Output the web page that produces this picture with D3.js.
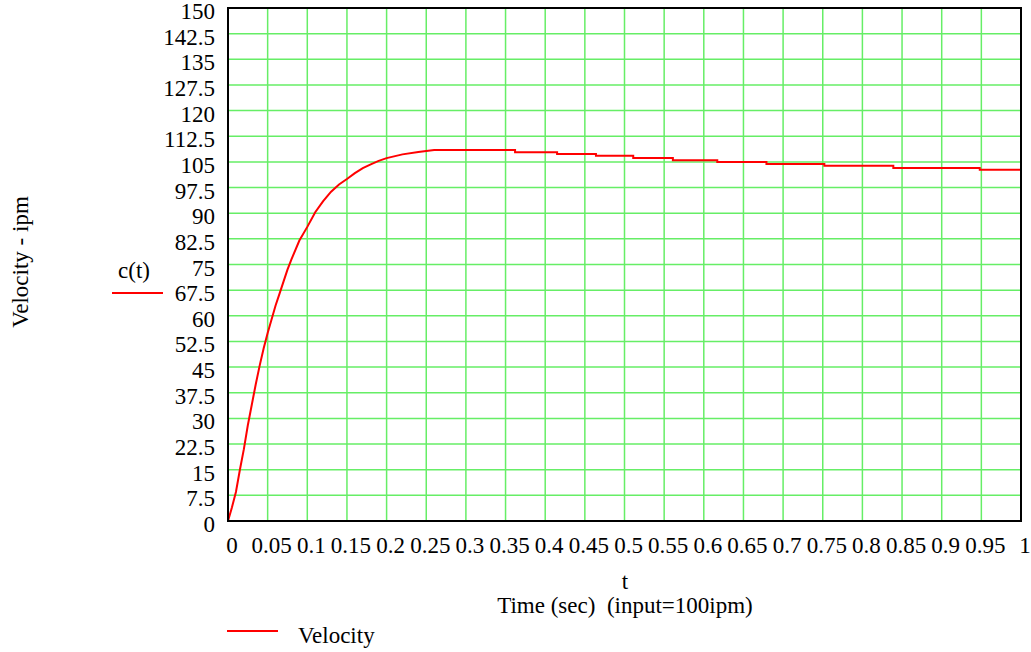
<!DOCTYPE html>
<html>
<head>
<meta charset="utf-8">
<script src="https://cdn.jsdelivr.net/npm/d3@7"></script>
</head>
<body style="margin:0">
<div id="chart"></div>
<script>
// tick labels shown on the axes
const xTicks = [0, 0.05, 0.1, 0.15, 0.2, 0.25, 0.3, 0.35, 0.4, 0.45, 0.5,
                0.55, 0.6, 0.65, 0.7, 0.75, 0.8, 0.85, 0.9, 0.95, 1];
const yTicks = [0, 7.5, 15, 22.5, 30, 37.5, 45, 52.5, 60, 67.5, 75, 82.5, 90,
                97.5, 105, 112.5, 120, 127.5, 135, 142.5, 150];

// rising part of c(t)
const riseT = [0, 0.005, 0.01, 0.015, 0.02, 0.025, 0.03, 0.035, 0.04, 0.045, 0.05,
               0.055, 0.06, 0.065, 0.07, 0.075, 0.08, 0.09, 0.1, 0.11, 0.12, 0.13,
               0.14, 0.15, 0.16, 0.17, 0.18, 0.19, 0.2, 0.22, 0.24, 0.26];
const riseC = [0, 4, 8.5, 15, 21, 28, 34, 40, 45.5, 50.5, 55,
               59, 63, 66.5, 70, 73.5, 76.5, 82, 86, 90.3, 93.5, 96.3,
               98.4, 100, 101.7, 103.2, 104.3, 105.3, 106.1, 107.2, 107.9, 108.5];

// stair levels of the slow decay (start time, level)
const stepT = [0.26, 0.362, 0.415, 0.464, 0.511, 0.561, 0.617, 0.679, 0.752, 0.839, 0.948];
const stepC = [108.5, 107.8, 107.3, 106.8, 106.15, 105.5, 105.0, 104.4, 103.85, 103.2, 102.7];
const tEnd = 1;

const width = 1031, height = 652;
const margin = { left: 228, top: 8, right: 10, bottom: 131 };

const svg = d3.select('#chart').append('svg')
    .attr('width', width)
    .attr('height', height);

const x = d3.scaleLinear().domain([0, 1]).range([margin.left, width - margin.right]);
const y = d3.scaleLinear().domain([0, 150]).range([height - margin.bottom, margin.top]);

// grid
svg.append('g').selectAll('line')
    .data(xTicks.slice(1, -1))
    .enter().append('line')
    .attr('x1', d => x(d)).attr('x2', d => x(d))
    .attr('y1', y(0)).attr('y2', y(150))
    .attr('stroke', '#66ee66')
    .attr('stroke-width', 1.5);

svg.append('g').selectAll('line')
    .data(yTicks.slice(1, -1))
    .enter().append('line')
    .attr('x1', x(0)).attr('x2', x(1))
    .attr('y1', d => y(d)).attr('y2', d => y(d))
    .attr('stroke', '#66ee66')
    .attr('stroke-width', 1.5);

// build the curve points
const points = riseT.map((t, i) => [t, riseC[i]]);
stepT.forEach((t, i) => {
    const next = i + 1 < stepT.length ? stepT[i + 1] : tEnd;
    points.push([t, stepC[i]], [next, stepC[i]]);
});

const line = d3.line()
    .x(d => x(d[0]))
    .y(d => y(d[1]));

svg.append('path')
    .datum(points)
    .attr('d', line)
    .attr('fill', 'none')
    .attr('stroke', '#ff0000')
    .attr('stroke-width', 2);

// frame
svg.append('rect')
    .attr('x', x(0)).attr('y', y(150))
    .attr('width', x(1) - x(0)).attr('height', y(0) - y(150))
    .attr('fill', 'none')
    .attr('stroke', '#000')
    .attr('stroke-width', 2);

// tick labels
const fmt = d => String(+d.toFixed(2));

function label(sel) {
    return sel.attr('font-family', 'Liberation Serif, Tinos, serif')
        .style('font-family', '"Liberation Serif", Tinos, serif')
        .style('font-size', '23px');
}

svg.append('g').selectAll('text')
    .data(xTicks)
    .enter().append('text')
    .attr('x', d => x(d) + 4)
    .attr('y', y(0) + 32)
    .attr('text-anchor', 'middle')
    .call(label)
    .text(fmt);

svg.append('g').selectAll('text')
    .data(yTicks)
    .enter().append('text')
    .attr('x', 215)
    .attr('y', d => y(d) + 11)
    .attr('text-anchor', 'end')
    .call(label)
    .text(fmt);

// axis titles
svg.append('text')
    .attr('x', 625).attr('y', 589)
    .attr('text-anchor', 'middle')
    .call(label)
    .text('t');

svg.append('text')
    .attr('x', 625).attr('y', 613)
    .attr('text-anchor', 'middle')
    .style('white-space', 'pre')
    .call(label)
    .text('Time (sec)  (input=100ipm)');

svg.append('text')
    .attr('transform', 'translate(28,262) rotate(-90)')
    .attr('text-anchor', 'middle')
    .call(label)
    .text('Velocity - ipm');

// series legend beside the y axis
svg.append('text')
    .attr('x', 134).attr('y', 278)
    .attr('text-anchor', 'middle')
    .call(label)
    .text('c(t)');

svg.append('line')
    .attr('x1', 112).attr('x2', 163)
    .attr('y1', 293).attr('y2', 293)
    .attr('stroke', '#ff0000').attr('stroke-width', 2);

// bottom legend
svg.append('line')
    .attr('x1', 227).attr('x2', 278)
    .attr('y1', 631).attr('y2', 631)
    .attr('stroke', '#ff0000').attr('stroke-width', 2);

svg.append('text')
    .attr('x', 298).attr('y', 643)
    .call(label)
    .text('Velocity');
</script>
</body>
</html>
